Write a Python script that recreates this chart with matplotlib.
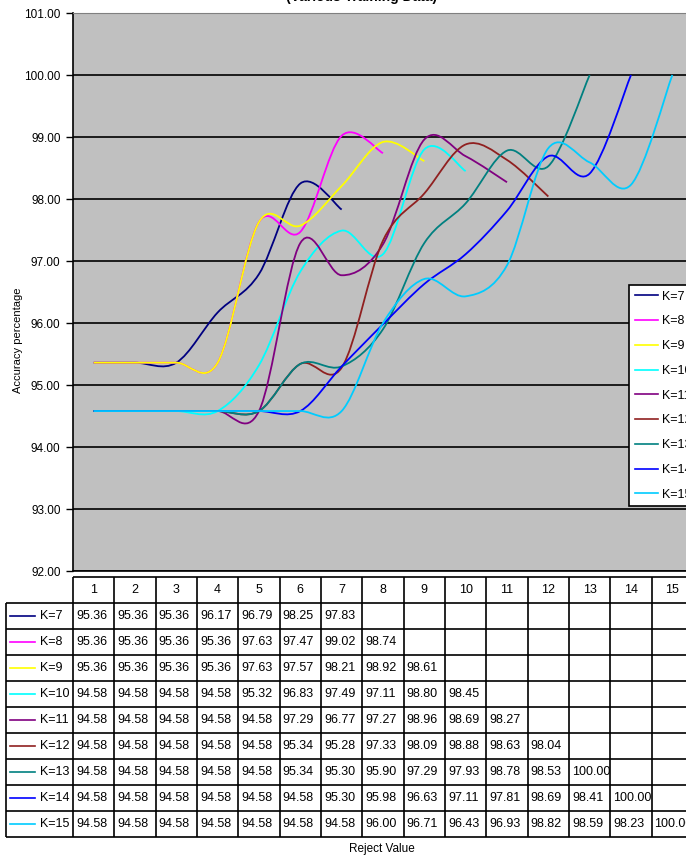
import numpy as np
import matplotlib
matplotlib.use("Agg")
import matplotlib.pyplot as plt
from matplotlib.path import Path
from matplotlib.patches import PathPatch
from matplotlib.lines import Line2D

plt.rcParams['font.family'] = ['Liberation Sans', 'DejaVu Sans']

# data
reject_values = list(range(1, 16))
k_labels = ["K=7", "K=8", "K=9", "K=10", "K=11", "K=12", "K=13", "K=14", "K=15"]
k7 = [95.36, 95.36, 95.36, 96.17, 96.79, 98.25, 97.83]
k8 = [95.36, 95.36, 95.36, 95.36, 97.63, 97.47, 99.02, 98.74]
k9 = [95.36, 95.36, 95.36, 95.36, 97.63, 97.57, 98.21, 98.92, 98.61]
k10 = [94.58, 94.58, 94.58, 94.58, 95.32, 96.83, 97.49, 97.11, 98.80, 98.45]
k11 = [94.58, 94.58, 94.58, 94.58, 94.58, 97.29, 96.77, 97.27, 98.96, 98.69, 98.27]
k12 = [94.58, 94.58, 94.58, 94.58, 94.58, 95.34, 95.28, 97.33, 98.09, 98.88, 98.63, 98.04]
k13 = [94.58, 94.58, 94.58, 94.58, 94.58, 95.34, 95.30, 95.90, 97.29, 97.93, 98.78, 98.53, 100.00]
k14 = [94.58, 94.58, 94.58, 94.58, 94.58, 94.58, 95.30, 95.98, 96.63, 97.11, 97.81, 98.69, 98.41, 100.00]
k15 = [94.58, 94.58, 94.58, 94.58, 94.58, 94.58, 94.58, 96.00, 96.71, 96.43, 96.93, 98.82, 98.59, 98.23, 100.00]
series = [k7, k8, k9, k10, k11, k12, k13, k14, k15]
colors = ["#000080", "#FF00FF", "#FFFF00", "#00FFFF", "#800080",
          "#902020", "#008080", "#0000FF", "#00CCFF"]


def smooth_path(xs, ys):
    # Excel style smoothed line: cubic bezier with catmull-rom control points
    pts = np.column_stack([xs, ys]).astype(float)
    n = len(pts)
    verts = [pts[0]]
    codes = [Path.MOVETO]
    for i in range(n - 1):
        p0 = pts[max(i - 1, 0)]
        p1 = pts[i]
        p2 = pts[i + 1]
        p3 = pts[min(i + 2, n - 1)]
        verts += [p1 + (p2 - p0) / 6, p2 - (p3 - p1) / 6, p2]
        codes += [Path.CURVE4] * 3
    return Path(verts, codes)


fig = plt.figure(figsize=(6.86, 8.59), dpi=100)
W, H = 686.0, 859.0
col_w = 41.33

ax = fig.add_axes([73 / W, 1 - 571 / H, 620 / W, 558 / H])
ax.set_facecolor("#C0C0C0")
for s, c in zip(series, colors):
    xs = reject_values[:len(s)]
    ax.add_patch(PathPatch(smooth_path(xs, s), facecolor="none", edgecolor=c, lw=1.3, zorder=3))

ax.set_xlim(0.5, 15.5)
ax.set_ylim(92, 101)
ax.set_yticks(np.arange(92, 102))
ax.yaxis.set_major_formatter(matplotlib.ticker.FormatStrFormatter("%.2f"))
ax.set_xticks([])
ax.yaxis.grid(True, color="black", lw=1.2)
ax.set_axisbelow(True)
ax.tick_params(axis="y", direction="out", length=5, width=1, labelsize=8.5, pad=4)
ax.spines["left"].set_linewidth(1.2)
ax.spines["bottom"].set_linewidth(1.2)
ax.spines["top"].set_color("#808080")
ax.spines["right"].set_visible(False)

# data table
tax = fig.add_axes([73 / W, 1 - 837 / H, 620 / W, 260 / H])
tax.set_xlim(0.5, 15.5)
tax.set_ylim(10, 0)
tax.axis("off")
left_edge = (6 - 73) / col_w + 0.5
tax.hlines(0, 0.5, 15.5, color="black", lw=1.2, clip_on=False)
tax.hlines(np.arange(1, 11), left_edge, 15.5, color="black", lw=1.2, clip_on=False)
tax.vlines(np.arange(0.5, 16), 0, 10, color="black", lw=1.2, clip_on=False)
tax.vlines(left_edge, 1, 10, color="black", lw=1.2, clip_on=False)

for x in reject_values:
    tax.text(x, 0.5, str(x), ha="center", va="center", fontsize=9)

for r, (lab, s, c) in enumerate(zip(k_labels, series, colors), start=1):
    tax.plot([(10 - 73) / col_w + 0.5, (35 - 73) / col_w + 0.5], [r + 0.5, r + 0.5],
             color=c, lw=1.2, clip_on=False)
    tax.text((40 - 73) / col_w + 0.5, r + 0.5, lab, ha="left", va="center", fontsize=9)
    for x, v in zip(reject_values, s):
        tax.text(x - 0.43, r + 0.5, "%.2f" % v, ha="left", va="center", fontsize=9)

handles = [Line2D([], [], color=c, lw=1.2) for c in colors]
leg = fig.legend(handles, k_labels, loc="upper left", bbox_to_anchor=(629 / W, 1 - 285 / H),
                 frameon=True, fancybox=False, edgecolor="black", framealpha=1, fontsize=9,
                 handlelength=1.9, labelspacing=1.02, borderpad=0.45, handletextpad=0.3,
                 borderaxespad=0)
leg.get_frame().set_linewidth(1.2)

fig.text(362 / W, 1.003, "(Various Training Data)", ha="center", va="center",
         fontsize=10, fontweight="bold")
fig.text(18 / W, 1 - 340 / H, "Accuracy percentage", rotation=90, ha="center", va="center",
         fontsize=8)
fig.text(382 / W, 1 - 849 / H, "Reject Value", ha="center", va="center", fontsize=8.5)

fig.savefig("out.png", dpi=100)
